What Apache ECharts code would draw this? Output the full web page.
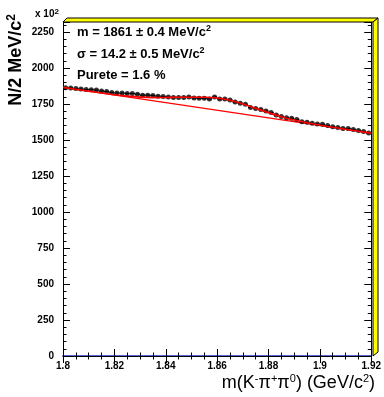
<!DOCTYPE html>
<html><head><meta charset="utf-8">
<script src="https://cdn.jsdelivr.net/npm/echarts@6/dist/echarts.min.js"></script>
<style>html,body{margin:0;padding:0;background:#fff}#c{width:384px;height:397px}</style>
</head><body><div id="c"></div>
<script>
// bin centres (GeV/c^2), 2 MeV bins
const massBins = [
  1.801,1.803,1.805,1.807,1.809,1.811,1.813,1.815,1.817,1.819,
  1.821,1.823,1.825,1.827,1.829,1.831,1.833,1.835,1.837,1.839,
  1.841,1.843,1.845,1.847,1.849,1.851,1.853,1.855,1.857,1.859,
  1.861,1.863,1.865,1.867,1.869,1.871,1.873,1.875,1.877,1.879,
  1.881,1.883,1.885,1.887,1.889,1.891,1.893,1.895,1.897,1.899,
  1.901,1.903,1.905,1.907,1.909,1.911,1.913,1.915,1.917,1.919
];
// entries per bin (x 10^2)
const counts = [
  1864,1861,1858,1854,1851,1850,1847,1840,1837,1830,
  1826,1826,1823,1823,1819,1812,1812,1809,1805,1802,
  1799,1795,1795,1795,1799,1792,1790,1790,1785,1799,
  1785,1785,1778,1764,1755,1748,1726,1720,1713,1701,
  1691,1674,1663,1655,1651,1642,1627,1623,1616,1611,
  1609,1601,1592,1587,1581,1580,1574,1567,1560,1549
];
const binHalfWidth = 0.001;
// fitted curve (signal + background)
const fitMass = [1.800,1.805,1.810,1.815,1.820,1.825,1.830,1.835,1.840,1.845,1.850,1.855,1.860,
                 1.865,1.870,1.875,1.880,1.885,1.890,1.895,1.900,1.905,1.910,1.915,1.920];
const fitValues = [1866,1853,1840,1827,1815,1805,1798,1795,1796,1797,1797,1797,1792,
                   1776,1751,1720,1690,1662,1639,1620,1604,1589,1575,1561,1548];
// background line
const bkgMass = [1.800, 1.920];
const bkgValues = [1866, 1548];

const annotations = [
  'm = 1861 ± 0.4 MeV/c{s|2}',
  'σ = 14.2 ± 0.5 MeV/c{s|2}',
  'Purete = 1.6 %'
];

const chart = echarts.init(document.getElementById('c'), null, {renderer: 'canvas'});
const FONT = '"Liberation Sans", Arial, Helvetica, sans-serif';
const fmtX = v => String(Number(v.toFixed(3)));
const tickCommon = {show: true, inside: true, length: 7, lineStyle: {color: '#000', width: 1}};
const minorCommon = {show: true, length: 3.5, lineStyle: {color: '#000', width: 1}};

const points = massBins.map((m, i) => [m, counts[i]]);

chart.setOption({
  animation: false,
  backgroundColor: '#fff',
  grid: {left: 63, right: 11, top: 22, bottom: 41, show: false},
  xAxis: [{
    type: 'value', min: 1.8, max: 1.92, interval: 0.02, position: 'bottom',
    axisLine: {show: true, lineStyle: {color: '#2233cc', width: 1.5}},
    axisTick: tickCommon,
    minorTick: Object.assign({splitNumber: 4}, minorCommon),
    splitLine: {show: false},
    axisLabel: {formatter: fmtX, color: '#000', fontFamily: FONT, fontWeight: 'bold', fontSize: 10, margin: 5,
                showMinLabel: true, showMaxLabel: true}
  }, {
    type: 'value', min: 1.8, max: 1.92, interval: 0.02, position: 'top',
    axisLine: {show: true, lineStyle: {color: '#000', width: 1}},
    axisTick: tickCommon,
    minorTick: Object.assign({splitNumber: 4}, minorCommon),
    splitLine: {show: false},
    axisLabel: {show: false}
  }],
  yAxis: [{
    type: 'value', min: 0, max: 2320, interval: 250, position: 'left',
    axisLine: {show: true, lineStyle: {color: '#000', width: 1}},
    axisTick: tickCommon,
    minorTick: Object.assign({splitNumber: 5}, minorCommon),
    splitLine: {show: false},
    axisLabel: {color: '#000', fontFamily: FONT, fontWeight: 'bold', fontSize: 10, margin: 9,
                showMaxLabel: false,
                formatter: v => (v % 250 === 0 ? String(v) : '')}
  }, {
    type: 'value', min: 0, max: 2320, interval: 250, position: 'right',
    axisLine: {show: true, lineStyle: {color: '#000', width: 1}},
    axisTick: tickCommon,
    minorTick: Object.assign({splitNumber: 5}, minorCommon),
    splitLine: {show: false},
    axisLabel: {show: false}
  }],
  series: [
    {
      type: 'line', name: 'background', data: bkgMass.map((m, i) => [m, bkgValues[i]]),
      symbol: 'none', lineStyle: {color: '#ff0000', width: 1.2}, z: 2
    },
    {
      type: 'custom', name: 'xerr', data: points, z: 3,
      renderItem: (params, api) => {
        const x = api.value(0), y = api.value(1);
        const a = api.coord([x - binHalfWidth, y]);
        const b = api.coord([x + binHalfWidth, y]);
        return {type: 'line', shape: {x1: a[0], y1: a[1], x2: b[0], y2: b[1]},
                style: {stroke: '#000', lineWidth: 1}};
      }
    },
    {
      type: 'scatter', name: 'data', data: points, symbol: 'circle', symbolSize: 5,
      itemStyle: {color: '#000'}, z: 4
    },
    {
      type: 'line', name: 'fit', data: fitMass.map((m, i) => [m, fitValues[i]]), smooth: 0.3,
      symbol: 'none', lineStyle: {color: '#ff0000', width: 1.6}, z: 5
    }
  ],
  graphic: [
    // yellow 3D frame shadow (top and right)
    {type: 'polygon', shape: {points: [[63, 22], [67, 18], [378, 18], [373, 22]]},
     style: {fill: '#ffff00', stroke: '#000', lineWidth: 1}, z: 100},
    {type: 'polygon', shape: {points: [[373, 22], [378, 18], [378, 352], [373, 356]]},
     style: {fill: '#ffff00', stroke: '#000', lineWidth: 1}, z: 100},
    // exponent label
    {type: 'text', x: 35, y: 14, z: 100,
     style: {text: 'x 10{s|2}', fontFamily: FONT, fontWeight: 'bold', fontSize: 10, fill: '#000',
             verticalAlign: 'middle', rich: {s: {fontSize: 8, fontWeight: 'bold', fontFamily: FONT, padding: [0, 0, 5, 0]}}}},
    // y title
    {type: 'text', x: 16, y: 60, rotation: Math.PI / 2, z: 100,
     style: {text: 'N/2 MeV/c{s|2}', fontFamily: FONT, fontWeight: 'bold', fontSize: 18, fill: '#000',
             align: 'center', verticalAlign: 'middle',
             rich: {s: {fontSize: 12, fontWeight: 'bold', fontFamily: FONT, padding: [0, 0, 9, 0]}}}},
    // x title
    {type: 'text', x: 375, y: 383, z: 100,
     style: {text: 'm(K{s|-}π{s|+}π{s|0}) (GeV/c{s|2})', fontFamily: FONT, fontSize: 18, fill: '#000',
             align: 'right', verticalAlign: 'middle',
             rich: {s: {fontSize: 11, fontFamily: FONT, padding: [0, 0, 8, 0]}}}},
    // annotations
    {type: 'text', x: 77, y: 32, z: 100,
     style: {text: annotations[0], fontFamily: FONT, fontWeight: 'bold', fontSize: 13, fill: '#000', verticalAlign: 'middle',
             rich: {s: {fontSize: 9, fontWeight: 'bold', fontFamily: FONT, padding: [0, 0, 6, 0]}}}},
    {type: 'text', x: 77, y: 54, z: 100,
     style: {text: annotations[1], fontFamily: FONT, fontWeight: 'bold', fontSize: 13, fill: '#000', verticalAlign: 'middle',
             rich: {s: {fontSize: 9, fontWeight: 'bold', fontFamily: FONT, padding: [0, 0, 6, 0]}}}},
    {type: 'text', x: 77, y: 75, z: 100,
     style: {text: annotations[2], fontFamily: FONT, fontWeight: 'bold', fontSize: 13, fill: '#000', verticalAlign: 'middle'}}
  ]
});
</script>
</body></html>
